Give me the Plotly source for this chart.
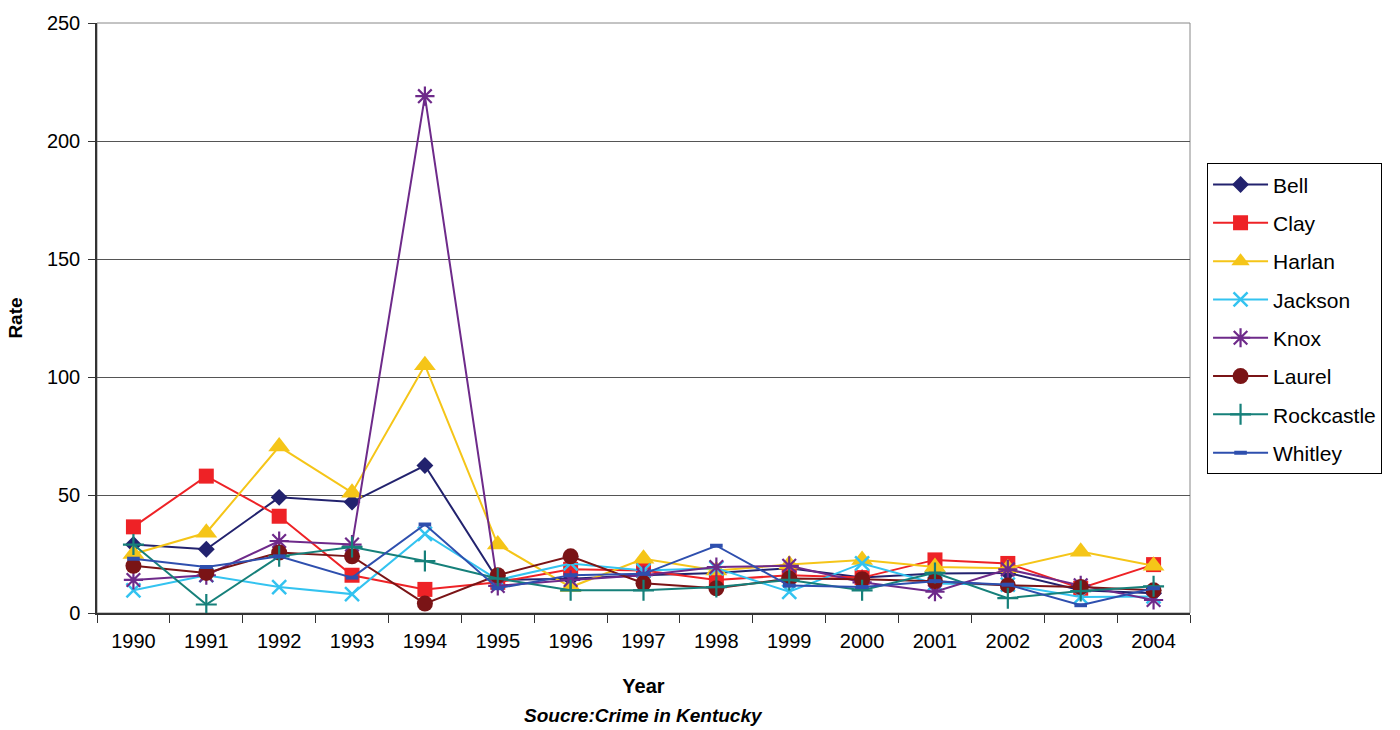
import plotly.graph_objects as go

years = [str(y) for y in range(1990, 2005)]

bell = [29, 27, 49, 47, 62.5, 14, 14.5, 16, 17, 19, 15, 16.7, 17, 9.6, 8.4]
clay = [36.5, 58, 41, 16, 10, 13, 18.5, 18, 14, 16, 15, 22.5, 21, 10.5, 20.5]
harlan = [25, 34, 70.5, 51, 105, 29, 11, 23, 18, 20.5, 22.5, 19.5, 19, 26, 20]
jackson = [9.6, 16, 11, 8, 33.5, 14, 21, 18, 19, 9, 21, 12.5, 12, 6.8, 7]
knox = [14, 16, 30.5, 29, 219, 11.5, 14, 16, 19.5, 20, 13, 9, 18.5, 11.7, 5.5]
laurel = [20, 17, 25.6, 24, 4, 16, 24, 12.6, 10.5, 14.6, 14.3, 13.5, 11.7, 11, 9.6]
rockcastle = [29, 3.6, 24, 28, 22, 14.6, 9.6, 9.6, 11, 14, 9.6, 17, 6.3, 9.3, 11.3]
whitley = [23, 19.5, 24, 15, 37.5, 10.5, 16, 16.6, 28.5, 11.6, 11, 13.5, 12, 3.3, 10.5]

series = [
    ("Bell", bell, "#22226E", "diamond", 13, None),
    ("Clay", clay, "#EE2226", "square", 15, None),
    ("Harlan", harlan, "#F5C518", "triangle-up", 19, None),
    ("Jackson", jackson, "#33C3F0", "x-thin-open", 14, 2.5),
    ("Knox", knox, "#6E2A8A", "asterisk-open", 16, 2.2),
    ("Laurel", laurel, "#7A1416", "circle", 16, None),
    ("Rockcastle", rockcastle, "#16807A", "cross-thin-open", 15, 2.2),
    ("Whitley", whitley, "#2E4FAE", "line-ew-open", 9, 4),
]

FONT = "Arial, Liberation Sans, sans-serif"

fig = go.Figure()
for name, vals, color, symbol, size, lw in series:
    marker = dict(symbol=symbol, size=size, color=color)
    if lw is not None:
        marker["line"] = dict(color=color, width=lw)
    fig.add_trace(go.Scatter(
        x=years, y=vals, name=name, mode="lines+markers",
        line=dict(color=color, width=2),
        marker=marker,
        legendgroup=name,
    ))

fig.update_layout(
    width=1400, height=730,
    margin=dict(l=97, r=210, t=17, b=117),
    paper_bgcolor="white", plot_bgcolor="white",
    font=dict(family=FONT, size=20, color="black"),
    showlegend=True,
    legend=dict(
        x=1.0156, y=0.762, xanchor="left", yanchor="top",
        bordercolor="black", borderwidth=1,
        font=dict(size=21, family=FONT),
        tracegroupgap=8,
        itemwidth=55,
    ),
    xaxis=dict(
        type="category",
        range=[-0.5, 14.5],
        showgrid=False,
        showline=True, linecolor="#333333", linewidth=1.5,
        ticks="outside", ticklen=8, tickcolor="#333333",
        tickson="boundaries",
        tickfont=dict(size=20),
        ticklabelstandoff=9,
        title=dict(text="<b>Year</b>", font=dict(size=20), standoff=28),
    ),
    yaxis=dict(
        range=[0, 250], dtick=50,
        showgrid=True, gridcolor="#555555", gridwidth=1,
        zeroline=False,
        showline=True, linecolor="#333333", linewidth=1.5,
        ticks="outside", ticklen=7, tickcolor="#333333",
        tickfont=dict(size=20),
        ticklabelstandoff=4,
        title=dict(text="<b>Rate</b>", font=dict(size=19), standoff=19),
    ),
    shapes=[dict(
        type="rect", xref="paper", yref="paper", x0=0, x1=1, y0=0, y1=1,
        line=dict(color="#888888", width=1), layer="below",
    )],
    annotations=[dict(
        text="<b><i>Soucre:Crime in Kentucky</i></b>",
        xref="paper", yref="paper", x=0.5, y=0, xanchor="center", yanchor="top",
        yshift=-90, showarrow=False, font=dict(size=19),
    )],
)

fig.write_html("out.html")
